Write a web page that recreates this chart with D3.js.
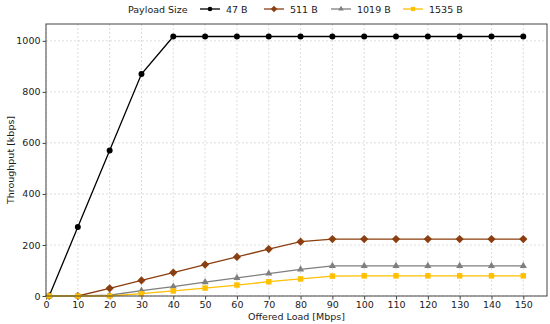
<!DOCTYPE html>
<html><head><meta charset="utf-8">
<script src="https://cdn.jsdelivr.net/npm/d3@7"></script>
<style>body{margin:0;background:#fff}svg{display:block;font-family:"DejaVu Sans",sans-serif}</style>
</head><body><svg id="c" width="550" height="324"></svg>
<script>
const loads = [1,10,20,30,40,50,60,70,80,90,100,110,120,130,140,150];
const s47   = [0,270,570,870,1017,1017,1017,1017,1017,1017,1017,1017,1017,1017,1017,1017];
const s511  = [0,0,30,61,92,123,153,184,213,223,223,223,223,223,223,223];
const s1019 = [0,0,3,21,37,54,71,88,104,118,118,118,118,118,118,118];
const s1535 = [0,0,0,9,20,31,43,56,67,78,79,79,79,79,79,79];
const seriesNames = ["47 B","511 B","1019 B","1535 B"];
const xTicks = [0,10,20,30,40,50,60,70,80,90,100,110,120,130,140,150];
const yTicks = [0,200,400,600,800,1000];

const colors = ["#000000","#8B3E0F","#7f7f7f","#FFC000"];
const diamondSq = {draw(ctx,size){const r=Math.sqrt(size/2);ctx.moveTo(0,-r);ctx.lineTo(r,0);ctx.lineTo(0,r);ctx.lineTo(-r,0);ctx.closePath();}};
const shapes = [d3.symbolCircle,diamondSq,d3.symbolTriangle,d3.symbolSquare];
const sizes = [28,34,22,30];
const allSeries = [s47,s511,s1019,s1535];

const svg = d3.select("#c");
const L=46,R=547,T=24,B=296;
const x = d3.scaleLinear().domain([0,157.45]).range([L,R]);
const y = d3.scaleLinear().domain([0,1066]).range([B,T]);

// grid
const g = svg.append("g");
g.selectAll(".gx").data(xTicks).join("line").attr("x1",d=>x(d)).attr("x2",d=>x(d)).attr("y1",T).attr("y2",B)
 .attr("stroke","#d4d4d4").attr("stroke-width",0.8).attr("stroke-dasharray","2,2");
g.selectAll(".gy").data(yTicks).join("line").attr("y1",d=>y(d)).attr("y2",d=>y(d)).attr("x1",L).attr("x2",R)
 .attr("stroke","#d4d4d4").attr("stroke-width",0.8).attr("stroke-dasharray","2,2");

// axes
const xa = svg.append("g").attr("transform",`translate(0,${B})`).call(d3.axisBottom(x).tickValues(xTicks).tickSize(3.5).tickPadding(2));
const ya = svg.append("g").attr("transform",`translate(${L},0)`).call(d3.axisLeft(y).tickValues(yTicks).tickSize(3.5).tickPadding(2).tickFormat(d3.format("d")));
[xa,ya].forEach(a=>{a.select(".domain").remove();a.selectAll("text").attr("font-size",9.5).attr("fill","#1a1a1a").attr("font-family","DejaVu Sans");a.selectAll("line").attr("stroke","#444");});

// lines
const line = d3.line().x((d,i)=>x(loads[i])).y(d=>y(d));
allSeries.forEach((s,k)=>{
  svg.append("path").datum(s).attr("d",line).attr("fill","none").attr("stroke",colors[k]).attr("stroke-width",1.3);
  svg.append("g").selectAll("path").data(s).join("path")
    .attr("transform",(d,i)=>`translate(${x(loads[i])},${y(d)})`)
    .attr("d",d3.symbol().type(shapes[k]).size(sizes[k])).attr("fill",colors[k]);
});

// frame
svg.append("rect").attr("x",L).attr("y",T).attr("width",R-L).attr("height",B-T).attr("fill","none").attr("stroke","#444").attr("stroke-width",1);

// labels
svg.append("text").attr("x",(L+R)/2).attr("y",320).attr("text-anchor","middle").attr("font-size",9.5).attr("fill","#1a1a1a").text("Offered Load [Mbps]");
svg.append("text").attr("transform",`translate(14,${(T+B)/2}) rotate(-90)`).attr("text-anchor","middle").attr("font-size",9.5).attr("fill","#1a1a1a").text("Throughput [kbps]");

// legend
const lg = svg.append("g");
lg.append("text").attr("x",128).attr("y",12.5).attr("font-size",9.5).attr("fill","#1a1a1a").text("Payload Size");
const lx = [200,264,331,403];
seriesNames.forEach((n,k)=>{
  const gx = lg.append("g").attr("transform",`translate(${lx[k]},9)`);
  gx.append("line").attr("x1",0).attr("x2",20).attr("stroke",colors[k]).attr("stroke-width",1.3);
  gx.append("path").attr("transform","translate(10,0)").attr("d",d3.symbol().type(shapes[k]).size(sizes[k]*0.6)).attr("fill",colors[k]);
  gx.append("text").attr("x",26).attr("y",3.5).attr("font-size",9.5).attr("fill","#1a1a1a").text(n);
});
</script></body></html>
